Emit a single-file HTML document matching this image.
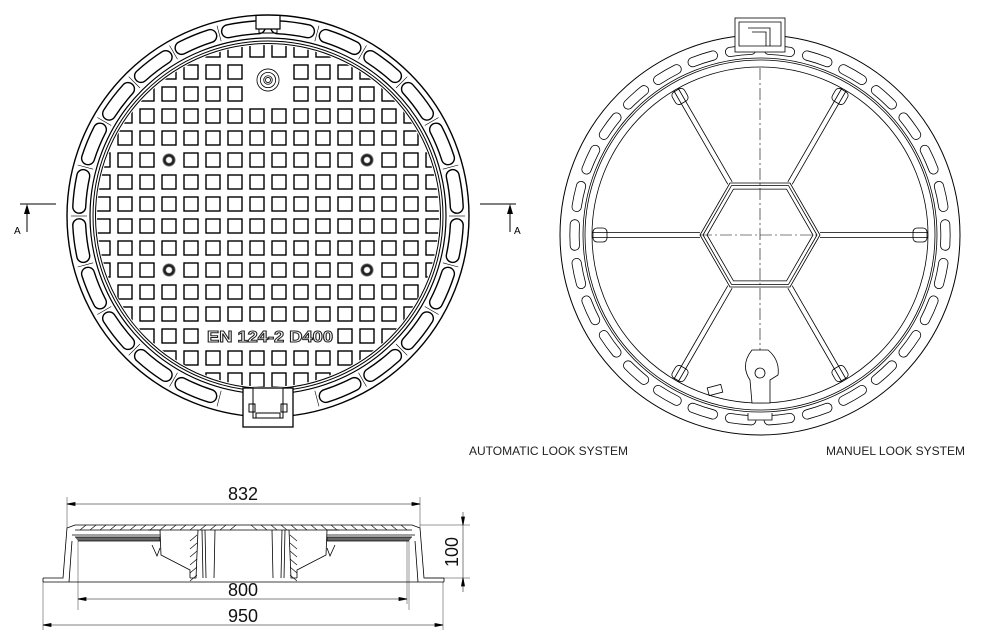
<!DOCTYPE html>
<html><head><meta charset="utf-8">
<style>
html,body{margin:0;padding:0;background:#fff;}
svg{display:block;}
text{font-family:"Liberation Sans",sans-serif;}
</style></head>
<body>
<svg id="s" width="982" height="639" viewBox="0 0 982 639" xmlns="http://www.w3.org/2000/svg">
<defs>
<clipPath id="gc"><circle cx="268" cy="216" r="171"/></clipPath>
<radialGradient id="hole"><stop offset="0.35" stop-color="#fff"/><stop offset="0.55" stop-color="#111"/><stop offset="0.8" stop-color="#333"/><stop offset="1" stop-color="#fff"/></radialGradient>
</defs>
<g id="L" fill="none" stroke="#000"></g>
<g id="R" fill="none" stroke="#000" stroke-width="0.8"></g>
<g id="S" fill="none" stroke="#000" stroke-width="0.8"></g>
<g fill="#222" font-size="11.5">
<text x="469" y="455" textLength="159" lengthAdjust="spacingAndGlyphs">AUTOMATIC LOOK SYSTEM</text>
<text x="826" y="455" textLength="139" lengthAdjust="spacingAndGlyphs">MANUEL LOOK SYSTEM</text>
</g>
<g stroke="#000" stroke-width="1" fill="none">
<line x1="20" y1="204" x2="56" y2="204"/><line x1="27" y1="206" x2="27" y2="232"/>
<line x1="480" y1="204" x2="516" y2="204"/><line x1="510" y1="206" x2="510" y2="232"/>
</g>
<polygon points="27,204 24,214 30,214" fill="#000"/>
<polygon points="510,204 507,214 513,214" fill="#000"/>
<text x="14" y="234" font-size="10">A</text>
<text x="514" y="234" font-size="10">A</text>
<text x="243" y="500" font-size="18" text-anchor="middle" fill="#111">832</text>
<text x="243" y="596" font-size="18" text-anchor="middle" fill="#111">800</text>
<text x="243" y="622" font-size="18" text-anchor="middle" fill="#111">950</text>
<text x="0" y="0" font-size="18" text-anchor="middle" fill="#111" transform="translate(458,552) rotate(-90)">100</text>
</svg>
<script>
var NS="http://www.w3.org/2000/svg";
function el(p,t,a){var e=document.createElementNS(NS,t);for(var k in a)e.setAttribute(k,a[k]);p.appendChild(e);return e;}
function pt(cx,cy,r,a){a=a*Math.PI/180;return [cx+r*Math.cos(a),cy+r*Math.sin(a)];}
function arc(cx,cy,r,a1,a2){var p=pt(cx,cy,r,a1),q=pt(cx,cy,r,a2);return "M"+p[0].toFixed(2)+" "+p[1].toFixed(2)+" A"+r+" "+r+" 0 0 1 "+q[0].toFixed(2)+" "+q[1].toFixed(2);}
function slot(g,cx,cy,r,a1,a2,w,sw){el(g,"path",{d:arc(cx,cy,r,a1,a2),stroke:"#000","stroke-width":w+sw*2,"stroke-linecap":"round"});el(g,"path",{d:arc(cx,cy,r,a1,a2),stroke:"#fff","stroke-width":w,"stroke-linecap":"round"});}
var L=document.getElementById("L"),cx=268,cy=216;
el(L,"circle",{cx:cx,cy:cy,r:201,"stroke-width":1.4,fill:"#fff"});
var n=24,step=360/n;
for(var i=0;i<n;i++){var a=-90+step/2+i*step;
 var d=((a-90)%360+360)%360; if(d<8||d>352) continue;
 slot(L,cx,cy,189,a-4.7,a+4.7,11.5,1.4);}
for(var i=0;i<n;i++){var a=-90+i*step;if(i==0||i==12)continue;var p=pt(cx,cy,181,a),q=pt(cx,cy,197,a);
 el(L,"line",{x1:p[0],y1:p[1],x2:q[0],y2:q[1],"stroke-width":0.6});}
el(L,"circle",{cx:cx,cy:cy,r:178,"stroke-width":1.2});
el(L,"circle",{cx:cx,cy:cy,r:175,"stroke-width":1});
el(L,"circle",{cx:cx,cy:cy,r:172.5,"stroke-width":1});
el(L,"path",{d:"M256 16 L256 29 L280 29 L280 16",fill:"#fff","stroke-width":1.2});
el(L,"path",{d:"M259 29 L259 33 L277 33 L277 29","stroke-width":1});
el(L,"rect",{x:243,y:388,width:50,height:39,fill:"#fff","stroke-width":1.3});
el(L,"path",{d:"M253 388 L253 418 L283 418 L283 388 M256 418 L256 413 L280 413 L280 418 M249 404 L255 404 L255 412 L249 412 Z M281 404 L287 404 L287 412 L281 412 Z","stroke-width":1});
var G=el(L,"g",{"clip-path":"url(#gc)","stroke-width":1.4});
for(var r=-1;r<17;r++)for(var c=-1;c<17;c++){
 var x=118+22*c,y=43+22*r;
 if((r==1||r==2)&&(c==6||c==7))continue;
 if(r==13&&c>=4&&c<=9)continue;
 if(((r==5||r==10)&&(c==2||c==11))){el(G,"circle",{cx:x+7,cy:y+7,r:7,fill:"url(#hole)",stroke:"none"});continue;}
 el(G,"rect",{x:x,y:y,width:14,height:14});}
[13,9,5,3].forEach(function(rr){el(L,"circle",{cx:268,cy:80,r:rr*0.85,"stroke-width":0.8});});
el(L,"text",{x:270,y:342,"font-size":16,"font-weight":"bold","text-anchor":"middle",fill:"#fff",stroke:"#222","stroke-width":1,"font-family":"Liberation Sans",textLength:126,lengthAdjust:"spacingAndGlyphs"}).textContent="EN 124-2  D400";
var R=document.getElementById("R"),X=760,Y=235;
el(R,"circle",{cx:X,cy:Y,r:200,"stroke-width":1});
var m=30,st=360/m;
for(var i=0;i<m;i++){var a=-90+st/2+i*st;var d=((a-90)%360+360)%360;if(d<6||d>354)continue;
 slot(R,X,Y,185.5,a-3.3,a+3.3,8.5,0.8);}
el(R,"circle",{cx:X,cy:Y,r:177});el(R,"circle",{cx:X,cy:Y,r:175});el(R,"circle",{cx:X,cy:Y,r:168});
el(R,"rect",{x:735,y:18,width:50,height:34,fill:"#fff"});
el(R,"path",{d:"M739 22 L781 22 L781 46 L739 46 Z M748 28 L770 28 L770 46 M752 32 L766 32 L766 46"});
el(R,"path",{d:"M748 413 L748 420 L772 420 L772 413",fill:"#fff"});
function hex(rr){var s="";for(var k=0;k<6;k++){var p=pt(X,Y,rr,k*60);s+=(k?"L":"M")+p[0].toFixed(1)+" "+p[1].toFixed(1);}return s+"Z";}
el(R,"path",{d:hex(60)});el(R,"path",{d:hex(57)});el(R,"path",{d:hex(53)});
for(var k=0;k<6;k++){var a=k*60;
 [-2.5,2.5].forEach(function(o){var p=pt(X,Y,60,a),q=pt(X,Y,168,a);var nx=-Math.sin(a*Math.PI/180)*o,ny=Math.cos(a*Math.PI/180)*o;
 el(R,"line",{x1:p[0]+nx,y1:p[1]+ny,x2:q[0]+nx,y2:q[1]+ny});});
 var c=pt(X,Y,160,a);el(R,"rect",{x:c[0]-7,y:c[1]-7,width:14,height:14,rx:4,transform:"rotate("+a+" "+c[0]+" "+c[1]+")"});
}
el(R,"line",{x1:X,y1:68,x2:X,y2:400,"stroke-dasharray":"12 3 2 3","stroke-width":0.6});
el(R,"line",{x1:700,y1:Y,x2:820,y2:Y,"stroke-dasharray":"12 3 2 3","stroke-width":0.6});
el(R,"path",{d:"M752 350 L768 350 Q780 360 778 375 L770 380 L770 403 L752 403 L750 380 Q740 365 752 350 Z",fill:"#fff"});
el(R,"circle",{cx:760,cy:373,r:5});
el(R,"rect",{x:708,y:386,width:14,height:8,transform:"rotate(-15 715 390)"});
var S=document.getElementById("S");
function line(a,b,c,d,w){el(S,"line",{x1:a,y1:b,x2:c,y2:d,"stroke-width":w||0.8});}
function half(f){
 function P(x){return f?487-x:x;}
 el(S,"path",{d:"M"+P(43)+" 578 L"+P(63)+" 578 L"+P(67)+" 528 L"+P(75)+" 525 L"+P(243.5)+" 525"});
 el(S,"path",{d:"M"+P(43)+" 582 L"+P(243.5)+" 582"});
 line(P(43),578,P(43),582);
 line(P(69),582,P(72),541);
 line(P(75),530,P(243.5),530);
 line(P(72),535,P(160),535);
 el(S,"path",{d:"M"+P(75)+" 537 L"+P(160)+" 537 L"+P(160)+" 541 L"+P(78)+" 541",fill:"#666"});
 el(S,"path",{d:"M"+P(148)+" 530 L"+P(160)+" 530 L"+P(161)+" 555 L"+P(190)+" 570 L"+P(190)+" 578"});
 el(S,"path",{d:"M"+P(190)+" 578 L"+P(196)+" 578 L"+P(198)+" 530"});
 el(S,"path",{d:"M"+P(152)+" 545 L"+P(157)+" 556 L"+P(160)+" 548"});
 for(var x=80;x<240;x+=10)line(P(x),530,P(x+6),525,0.6);
 for(var y=535;y<576;y+=8)line(P(190),y+6,P(197),y,0.6);
 line(P(202),530,P(203),578);line(P(205),530,P(206),578);line(P(215),530,P(214),578);
 line(P(78),541,P(78),610,0.4);
}
half(false);half(true);
line(67,504,420,504,0.5);line(67,497,67,528,0.4);line(420,497,420,528,0.4);
line(78,599,407,599,0.5);line(407,541,407,604,0.4);
line(43,625,443,625,0.5);line(43,582,43,630,0.4);line(443,582,443,630,0.4);
line(420,525,470,525,0.4);line(425,578,470,578,0.4);line(463,512,463,592,0.5);
[[67,504,1],[420,504,-1],[78,599,1],[407,599,-1],[43,625,1],[443,625,-1]].forEach(function(a){
 el(S,"path",{d:"M"+a[0]+" "+a[1]+" l"+(8*a[2])+" -1.5 l0 3 z",fill:"#000"});});
el(S,"path",{d:"M463 525 l-1.5 -8 l3 0 z M463 578 l-1.5 8 l3 0 z",fill:"#000"});
</script>
</body></html>
